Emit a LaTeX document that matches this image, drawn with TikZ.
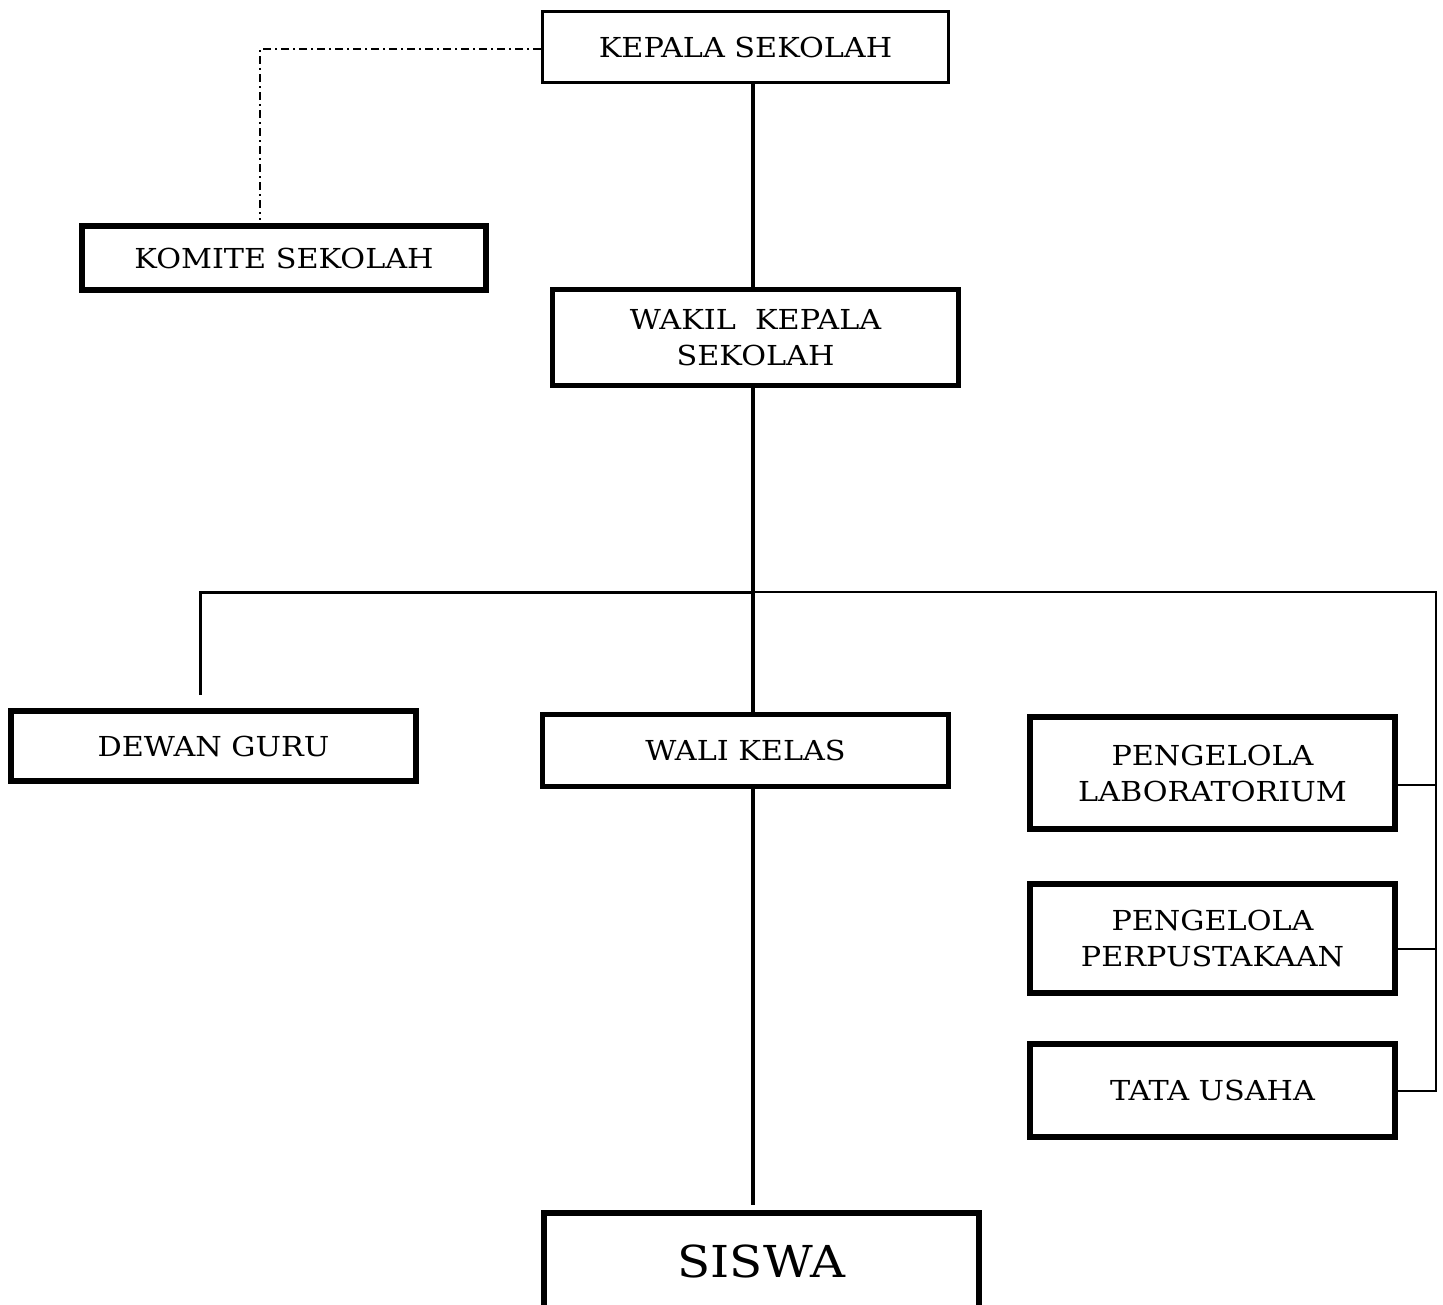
\documentclass[tikz,border=0pt]{standalone}
\usepackage{fontspec}
\setmainfont{DejaVu Serif}[FakeStretch=1.1]
\begin{document}
\begin{tikzpicture}[x=1pt,y=-1pt,
  box/.style={draw=black, fill=white, inner sep=0pt, align=center,
    font=\fontsize{27.5}{36}\selectfont},
  thin box/.style={box, line width=3pt},
  thick box/.style={box, line width=6pt},
  trunk/.style={line width=4pt},
  branch/.style={line width=3pt},
  side/.style={line width=2pt},
  dashdot/.style={line width=1.5pt, dash pattern=on 8pt off 4pt on 2pt off 4pt}]
\useasboundingbox[fill=white] (0,0) rectangle (1443,1304);

\node[thin box, minimum width=406pt, minimum height=71pt] (kepala) at (745.5,47) {KEPALA SEKOLAH};
\node[thick box, minimum width=404pt, minimum height=64pt] (komite) at (284,258) {KOMITE SEKOLAH};
\node[thick box, line width=5pt, minimum width=406pt, minimum height=96pt] (wakil) at (755.5,337.5) {WAKIL\ \ KEPALA\\SEKOLAH};
\node[thick box, minimum width=405pt, minimum height=70pt] (dewan) at (213.5,746) {DEWAN GURU};
\node[thick box, line width=5pt, minimum width=406pt, minimum height=72pt] (wali) at (745.5,750.5) {WALI KELAS};
\node[thick box, minimum width=365pt, minimum height=112pt] (lab) at (1212.5,773) {PENGELOLA\\LABORATORIUM};
\node[thick box, minimum width=365pt, minimum height=109pt] (perpus) at (1212.5,938.5) {PENGELOLA\\PERPUSTAKAAN};
\node[thick box, minimum width=365pt, minimum height=93pt] (tata) at (1212.5,1090.5) {TATA USAHA};
\node[thick box, minimum width=435pt, minimum height=97pt, font=\fontsize{44}{50}\selectfont] (siswa) at (761.5,1261.5) {SISWA};

\coordinate (t) at (753,592);
\coordinate (l) at (200,592);
\coordinate (r) at (1436,592);
\coordinate (dl) at (200,695);
\coordinate (dk) at (260,49);
\coordinate (de) at (260,220);
\coordinate (se) at (753,1205);

% dash-dot link to komite
\draw[dashdot] (kepala.west |- dk) -- (dk) -- (de);

% trunk
\draw[trunk] (kepala.south -| t) -- (wakil.north -| t);
\draw[trunk] (wakil.south -| t) -- (wali.north -| t);
\draw[trunk] (wali.south -| t) -- (se);

% horizontal bar
\draw[branch] (dl) -- (l) -- (t);
\draw[side] (t) -- (r) -- (r |- tata.east) -- (tata.east);
\draw[side] ([yshift=-12pt]lab.east) -- ([yshift=-12pt]lab.east -| r);
\draw[side] ([yshift=-10pt]perpus.east) -- ([yshift=-10pt]perpus.east -| r);
\end{tikzpicture}
\end{document}
